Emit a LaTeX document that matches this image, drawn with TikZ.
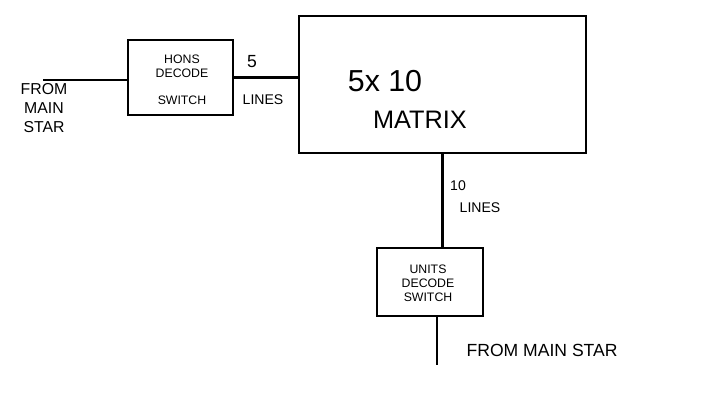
\documentclass[tikz,border=0pt]{standalone}
\usepackage{fontspec}
\setmainfont{Liberation Sans}
\usetikzlibrary{positioning, calc}

\begin{document}
\begin{tikzpicture}[
        x=0.02cm, y=-0.02cm,
        block/.style={draw, rectangle, inner sep=0pt, line width=1.2pt},
        lbl/.style={font=\footnotesize, inner sep=1pt},
        wire/.style={draw, line width=1.2pt}
    ]
    \useasboundingbox (0,0) rectangle (719,392);

    % Switches and matrix
    \node[block, minimum width=2.1cm,  minimum height=1.5cm]  (hons)   at (180.5,77.5) {};
    \node[block, minimum width=5.74cm, minimum height=2.74cm] (matrix) at (442.5,84.5) {};
    \node[block, minimum width=2.12cm, minimum height=1.36cm] (units)  at (430,282)   {};

    % Box texts
    \node[lbl, align=center, font=\scriptsize] (honsT) at (182,66)  {HONS\\DECODE};
    \node[lbl, font=\scriptsize]               (honsB) at (182,100) {SWITCH};
    \node[font=\LARGE]                         (mxT)   at (385,81)  {5x 10};
    \node[font=\Large]                         (mxB)   at (420,120) {MATRIX};
    \node[lbl, align=center, font=\scriptsize] (unitT) at (428,283) {UNITS\\DECODE\\SWITCH};

    % Free ends
    \coordinate (inL)  at (43,80);
    \coordinate (inB)  at (437,365);

    % Connections
    \draw[wire] (inL) -- (inL -| hons.west);
    \draw[wire] (hons.east) -- (hons.east -| matrix.west);
    \draw[wire] (matrix.south) -- (matrix.south |- units.north);
    \draw[wire] (units.south -| inB) -- (inB);

    % Line labels
    \node[lbl, align=center, font=\small] (fromL) at (44,108) {FROM\\MAIN\\STAR};
    \node[lbl, font=\normalsize] (five)  at (252,62)  {5};
    \node[lbl]                   (lnA)   at (263,100) {LINES};
    \node[lbl]                   (ten)   at (458,186) {10};
    \node[lbl]                   (lnB)   at (480,208) {LINES};
    \node[lbl, font=\normalsize, anchor=west, right=0.55cm of inB, yshift=0.3cm] (fromB) {FROM MAIN STAR};

\end{tikzpicture}
\end{document}
